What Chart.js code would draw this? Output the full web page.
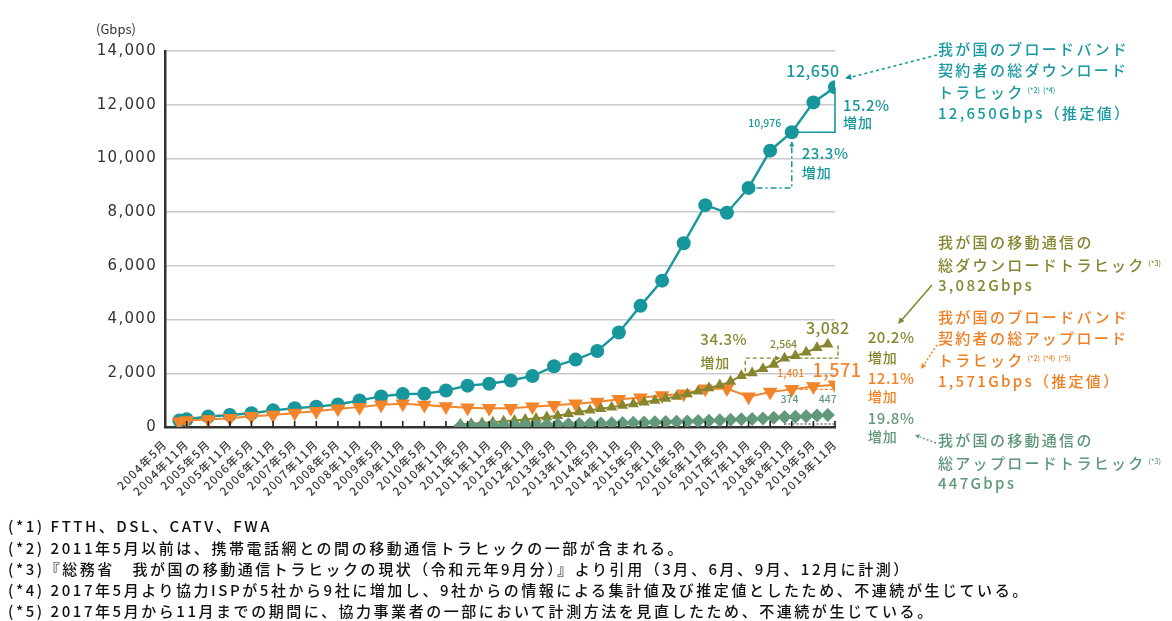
<!DOCTYPE html>
<html lang="ja">
<head>
<meta charset="utf-8">
<script src="https://cdn.jsdelivr.net/npm/chart.js@4.4.1/dist/chart.umd.min.js"></script>
<style>
  html, body { margin: 0; padding: 0; background: #fff; }
  #wrap { position: relative; width: 1172px; height: 621px; overflow: hidden; font-family: "Noto Sans CJK JP", sans-serif; }
  #chartBox { position: absolute; left: 0; top: 0; width: 1172px; height: 621px; }
  .unit { position: absolute; left: 96px; top: 19px; font-size: 13px; color: #333; }
  .note { position: absolute; left: 938px; white-space: nowrap; font-size: 15px; font-weight: 500; letter-spacing: 2.3px; line-height: 20.5px; }
  .note sup { font-size: 7px; letter-spacing: 0; vertical-align: 5px; margin-left: 3px; }
  .foot { position: absolute; left: 8px; white-space: nowrap; font-size: 15px; font-weight: 500; letter-spacing: 2.55px; color: #111; line-height: 18px; }
</style>
</head>
<body>
<div id="wrap">
  <div id="chartBox"><canvas id="trafficChart"></canvas></div>
  <div class="unit">(Gbps)</div>

  <div class="note" style="top:39px;color:#1a9aa0">我が国のブロードバンド<br>契約者の総ダウンロード<br>トラヒック<sup>(*2)</sup><sup>(*4)</sup><br>12,650Gbps（推定値）</div>
  <div class="note" style="top:232px;color:#858530">我が国の移動通信の<br>総ダウンロードトラヒック<sup>(*3)</sup><br>3,082Gbps</div>
  <div class="note" style="top:307px;color:#f07e22">我が国のブロードバンド<br>契約者の総アップロード<br>トラヒック<sup>(*2)</sup><sup>(*4)</sup><sup>(*5)</sup><br>1,571Gbps（推定値）</div>
  <div class="note" style="top:430px;color:#5e9679">我が国の移動通信の<br>総アップロードトラヒック<sup>(*3)</sup><br>447Gbps</div>

  <div class="foot" style="top:517px">(*1) FTTH、DSL、CATV、FWA</div>
  <div class="foot" style="top:539px">(*2) 2011年5月以前は、携帯電話網との間の移動通信トラヒックの一部が含まれる。</div>
  <div class="foot" style="top:560px">(*3)『総務省　我が国の移動通信トラヒックの現状（令和元年9月分）』より引用（3月、6月、9月、12月に計測）</div>
  <div class="foot" style="top:581px">(*4) 2017年5月より協力ISPが5社から9社に増加し、9社からの情報による集計値及び推定値としたため、不連続が生じている。</div>
  <div class="foot" style="top:602px">(*5) 2017年5月から11月までの期間に、協力事業者の一部において計測方法を見直したため、不連続が生じている。</div>
</div>

<script>
// --- データ ---
// X軸の目盛ラベル（半年ごと）
const xTickLabels = [
    '2004年5月', '2004年11月', '2005年5月', '2005年11月', '2006年5月', '2006年11月',
    '2007年5月', '2007年11月', '2008年5月', '2008年11月', '2009年5月', '2009年11月',
    '2010年5月', '2010年11月', '2011年5月', '2011年11月', '2012年5月', '2012年11月',
    '2013年5月', '2013年11月', '2014年5月', '2014年11月', '2015年5月', '2015年11月',
    '2016年5月', '2016年11月', '2017年5月', '2017年11月', '2018年5月', '2018年11月',
    '2019年5月', '2019年11月'
];

// ブロードバンド契約者の計測月
const bbDates = [
    '2004年9月', '2004年11月', '2005年5月', '2005年11月', '2006年5月', '2006年11月',
    '2007年5月', '2007年11月', '2008年5月', '2008年11月', '2009年5月', '2009年11月',
    '2010年5月', '2010年11月', '2011年5月', '2011年11月', '2012年5月', '2012年11月',
    '2013年5月', '2013年11月', '2014年5月', '2014年11月', '2015年5月', '2015年11月',
    '2016年5月', '2016年11月', '2017年5月', '2017年11月', '2018年5月', '2018年11月',
    '2019年5月', '2019年11月'
];
// 総ダウンロードトラヒック (Gbps)
const bbDown = [
    240, 290, 390, 447, 510, 620, 696, 757, 840, 990, 1140, 1230,
    1235, 1360, 1540, 1610, 1730, 1900, 2260, 2510, 2830, 3520, 4510, 5450,
    6840, 8260, 7980, 8902, 10290, 10976, 12086, 12650
];
// 総アップロードトラヒック (Gbps)
const bbUp = [
    200, 240, 280, 330, 400, 450, 520, 590, 680, 740, 830, 870,
    820, 760, 720, 700, 700, 750, 810, 870, 930, 1030, 1090, 1170,
    1240, 1420, 1430, 1130, 1300, 1401, 1510, 1571
];

// 移動通信の計測月（四半期）
const mobileDates = [
    '2011年3月', '2011年6月', '2011年9月', '2011年12月',
    '2012年3月', '2012年6月', '2012年9月', '2012年12月',
    '2013年3月', '2013年6月', '2013年9月', '2013年12月',
    '2014年3月', '2014年6月', '2014年9月', '2014年12月',
    '2015年3月', '2015年6月', '2015年9月', '2015年12月',
    '2016年3月', '2016年6月', '2016年9月', '2016年12月',
    '2017年3月', '2017年6月', '2017年9月', '2017年12月',
    '2018年3月', '2018年6月', '2018年9月', '2018年12月',
    '2019年3月', '2019年6月', '2019年9月'
];
const mobileDown = [
    100, 120, 150, 180, 210, 240, 280, 320, 370, 420, 490, 560,
    620, 680, 740, 800, 860, 920, 990, 1060, 1140, 1230, 1330, 1450,
    1560, 1690, 1909, 2010, 2170, 2330, 2564, 2650, 2780, 2949, 3082
];
const mobileUp = [
    40, 45, 50, 55, 60, 65, 72, 80, 88, 95, 103, 112,
    120, 128, 136, 145, 155, 165, 175, 185, 195, 208, 220, 235,
    250, 268, 285, 300, 318, 345, 374, 385, 400, 425, 447
];

const TEAL = '#17979c';
const ORANGE = '#f3842a';
const OLIVE = '#86862f';
const GREEN = '#62997c';

// --- ヘルパー ---
// "2004年5月" を起点とした月数
function monthIndex(label) {
    const m = label.match(/(\d+)年(\d+)月/);
    return (parseInt(m[1]) - 2004) * 12 + (parseInt(m[2]) - 5);
}
function toPoints(dates, values) {
    return dates.map((d, i) => ({ x: monthIndex(d), y: values[i] }));
}

function arrowHead(ctx, x1, y1, x2, y2, size, color) {
    const a = Math.atan2(y2 - y1, x2 - x1);
    ctx.save();
    ctx.setLineDash([]);
    ctx.fillStyle = color;
    ctx.beginPath();
    ctx.moveTo(x2, y2);
    ctx.lineTo(x2 - size * Math.cos(a - 0.45), y2 - size * Math.sin(a - 0.45));
    ctx.lineTo(x2 - size * Math.cos(a + 0.45), y2 - size * Math.sin(a + 0.45));
    ctx.closePath();
    ctx.fill();
    ctx.restore();
}

function line(ctx, pts, color, width, dash) {
    ctx.save();
    ctx.strokeStyle = color;
    ctx.lineWidth = width;
    ctx.setLineDash(dash || []);
    ctx.beginPath();
    pts.forEach((p, i) => i ? ctx.lineTo(p[0], p[1]) : ctx.moveTo(p[0], p[1]));
    ctx.stroke();
    ctx.restore();
}

function label(ctx, txt, x, y, size, color, align, spacing) {
    ctx.save();
    ctx.font = '500 ' + size + 'px "Noto Sans CJK JP", sans-serif';
    ctx.fillStyle = color;
    ctx.textAlign = align || 'center';
    ctx.textBaseline = 'middle';
    ctx.letterSpacing = (spacing || 0) + 'px';
    ctx.fillText(txt, x, y);
    ctx.restore();
}

// 目盛ラベルの字間
const spacingPlugin = {
    id: 'spacing',
    beforeDraw(chart) { chart.ctx.letterSpacing = '1.3px'; }
};

// --- 注記プラグイン ---
const notePlugin = {
    id: 'notes',
    afterDatasetsDraw(chart) {
        const { ctx, scales: { x, y }, chartArea } = chart;
        const X = d => x.getPixelForValue(monthIndex(d));
        const Y = v => y.getPixelForValue(v);

        // X軸の内向き目盛
        x.ticks.forEach((t, i) => {
            if (i === 0) return;
            const px = x.getPixelForValue(t.value);
            line(ctx, [[px, chartArea.bottom], [px, chartArea.bottom - 6]], '#222', 1.6);
        });

        // ブロードバンド ダウンロード
        const pLast = [X('2019年11月'), Y(12650)];
        const pPrev = [X('2018年11月'), Y(10976)];
        const pPrev2 = [X('2017年11月'), Y(8902)];
        line(ctx, [pPrev, [pLast[0], pPrev[1]], pLast], TEAL, 1.6);
        line(ctx, [[pPrev2[0] + 8, pPrev2[1]], [pPrev[0], pPrev2[1]], [pPrev[0], pPrev[1] + 10]], TEAL, 1.5, [6, 3, 2, 3]);
        arrowHead(ctx, pPrev[0], pPrev[1] + 20, pPrev[0], pPrev[1] + 9, 6, TEAL);
        label(ctx, '12,650', pLast[0] - 22, pLast[1] - 16, 16, TEAL, 'center', 0.5);
        label(ctx, '10,976', pPrev[0] - 27, pPrev[1] - 9, 10.5, TEAL, 'center', 0);
        label(ctx, '15.2%', pLast[0] + 8, pLast[1] + 18, 15, TEAL, 'left', 0.5);
        label(ctx, '増加', pLast[0] + 8, pLast[1] + 35, 14, TEAL, 'left', 1);
        label(ctx, '23.3%', pPrev[0] + 10, pPrev[1] + 21, 15, TEAL, 'left', 0.5);
        label(ctx, '増加', pPrev[0] + 10, pPrev[1] + 40, 14, TEAL, 'left', 1);
        line(ctx, [[937, 55], [pLast[0] + 12, pLast[1] - 9]], TEAL, 1.6, [3, 3]);
        arrowHead(ctx, 937, 55, pLast[0] + 10, pLast[1] - 9, 7, TEAL);

        // 移動通信 ダウンロード
        const mLast = [X('2019年9月'), Y(3082)];
        const mPrev = [X('2018年9月'), Y(2564)];
        const mPrev2 = [X('2017年9月'), Y(1909)];
        line(ctx, [[mPrev2[0] + 4, mPrev2[1] - 4], [mPrev2[0] + 4, mPrev[1]], [mPrev[0] - 6, mPrev[1]]], OLIVE, 1.4, [4, 3]);
        arrowHead(ctx, mPrev2[0], mPrev[1], mPrev[0] - 4, mPrev[1], 6, OLIVE);
        line(ctx, [[mPrev[0] + 8, mPrev[1]], [pLast[0] + 3, mPrev[1]], [pLast[0] + 3, mLast[1]]], OLIVE, 1.4, [4, 2]);
        label(ctx, '3,082', mLast[0], mLast[1] - 16, 16, OLIVE, 'center', 0.5);
        label(ctx, '2,564', mPrev[0] - 1, mPrev[1] - 14, 10.5, OLIVE, 'center', 0);
        label(ctx, '34.3%', mPrev2[0] - 41, mPrev2[1] - 36, 15, OLIVE, 'left', 0.5);
        label(ctx, '増加', mPrev2[0] - 41, mPrev2[1] - 13, 14, OLIVE, 'left', 1);
        label(ctx, '20.2%', mLast[0] + 40, mLast[1] - 7, 15, OLIVE, 'left', 0.5);
        label(ctx, '増加', mLast[0] + 40, mLast[1] + 13, 14, OLIVE, 'left', 1);
        line(ctx, [[932, 285], [900, 322]], OLIVE, 1.6);
        arrowHead(ctx, 932, 285, 898, 324, 7, OLIVE);

        // ブロードバンド アップロード
        const uLast = [X('2019年11月'), Y(1571)];
        const uPrev = [X('2018年11月'), Y(1401)];
        line(ctx, [[uPrev[0] + 8, uPrev[1]], [uLast[0], uPrev[1]]], ORANGE, 1.3, [3, 2]);
        label(ctx, '1,571', uLast[0] + 2, uLast[1] - 15, 18, ORANGE, 'center', 0.5);
        label(ctx, '1,401', uPrev[0] - 1, uPrev[1] - 16, 10.5, ORANGE, 'center', 0);
        label(ctx, '12.1%', mLast[0] + 40, uLast[1] - 7, 15, ORANGE, 'left', 0.5);
        label(ctx, '増加', mLast[0] + 40, uLast[1] + 12, 14, ORANGE, 'left', 1);
        line(ctx, [[937, 345], [923, 366]], ORANGE, 1.5, [2, 2]);
        arrowHead(ctx, 937, 345, 921, 369, 6, ORANGE);

        // 移動通信 アップロード
        const gLast = [X('2019年9月'), Y(447)];
        const gPrev = [X('2018年9月'), Y(374)];
        line(ctx, [[gPrev[0], gPrev[1] + 7], [gPrev[0], chartArea.bottom - 3], [gLast[0] + 7, chartArea.bottom - 3], [gLast[0] + 7, gLast[1] + 6]], '#333', 1.2, [2, 2]);
        label(ctx, '374', gPrev[0] + 5, gPrev[1] - 18, 10.5, GREEN, 'center', 0);
        label(ctx, '447', gLast[0], gLast[1] - 16, 10.5, GREEN, 'center', 0);
        label(ctx, '19.8%', mLast[0] + 40, gLast[1] + 3, 15, GREEN, 'left', 0.5);
        label(ctx, '増加', mLast[0] + 40, gLast[1] + 22, 14, GREEN, 'left', 1);
        line(ctx, [[936, 443], [920, 437]], GREEN, 1.5, [2, 2]);
        arrowHead(ctx, 936, 443, 915, 435, 5, GREEN);
    }
};

// --- チャート描画 ---
function renderChart() {
    const ctx = document.getElementById('trafficChart').getContext('2d');
    new Chart(ctx, {
        type: 'line',
        data: {
            datasets: [
                {
                    label: 'ブロードバンド ダウンロード',
                    data: toPoints(bbDates, bbDown),
                    borderColor: TEAL,
                    backgroundColor: TEAL,
                    borderWidth: 2.4,
                    pointStyle: 'circle',
                    pointRadius: 7,
                    pointBorderWidth: 0,
                    order: 4
                },
                {
                    label: 'ブロードバンド アップロード',
                    data: toPoints(bbDates, bbUp),
                    borderColor: ORANGE,
                    backgroundColor: ORANGE,
                    borderWidth: 2,
                    pointStyle: 'triangle',
                    rotation: 180,
                    pointRadius: 8.5,
                    pointBorderWidth: 0,
                    order: 3
                },
                {
                    label: '移動通信 ダウンロード',
                    data: toPoints(mobileDates, mobileDown),
                    borderColor: OLIVE,
                    backgroundColor: OLIVE,
                    borderWidth: 2,
                    pointStyle: 'triangle',
                    pointRadius: 6.5,
                    pointBorderWidth: 0,
                    order: 2
                },
                {
                    label: '移動通信 アップロード',
                    data: toPoints(mobileDates, mobileUp),
                    borderColor: GREEN,
                    backgroundColor: GREEN,
                    borderWidth: 2,
                    pointStyle: 'rectRot',
                    pointRadius: 7,
                    pointBorderWidth: 0,
                    order: 1
                }
            ]
        },
        options: {
            responsive: true,
            maintainAspectRatio: false,
            animation: false,
            layout: { padding: { left: 0, top: 51, right: 337, bottom: 0 } },
            plugins: {
                legend: { display: false },
                tooltip: { enabled: false }
            },
            scales: {
                x: {
                    type: 'linear',
                    min: 0,
                    max: monthIndex('2019年11月'),
                    afterBuildTicks: scale => {
                        scale.ticks = xTickLabels.map(l => ({ value: monthIndex(l) }));
                    },
                    afterFit: scale => { scale.height = 194; },
                    grid: { display: false },
                    border: { display: true, color: '#333', width: 2.5 },
                    ticks: {
                        autoSkip: false,
                        minRotation: 45,
                        maxRotation: 45,
                        padding: 2,
                        color: '#3a3a3a',
                        font: { family: '"Noto Sans CJK JP", sans-serif', size: 11.5, weight: '500' },
                        callback: (v, i) => xTickLabels[i]
                    }
                },
                y: {
                    min: 0,
                    max: 14000,
                    afterFit: scale => { scale.width = 165; },
                    grid: { color: '#c9c9ce', lineWidth: 1.5, drawTicks: false },
                    border: { display: true, color: '#333', width: 2.5 },
                    ticks: {
                        stepSize: 2000,
                        padding: 8,
                        color: '#333',
                        font: { family: '"DejaVu Sans", sans-serif', size: 15 },
                        callback: v => v.toLocaleString('en-US')
                    }
                }
            }
        },
        plugins: [spacingPlugin, notePlugin]
    });
}

document.addEventListener('DOMContentLoaded', renderChart);
</script>
</body>
</html>
